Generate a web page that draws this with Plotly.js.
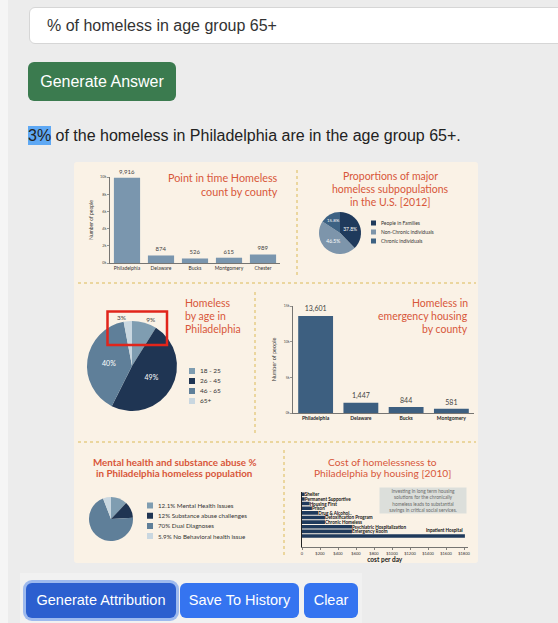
<!DOCTYPE html>
<html><head><meta charset="utf-8">
<script src="https://cdn.plot.ly/plotly-3.0.1.min.js"></script>
<style>
body{margin:0;background:#ececec;width:558px;height:623px;overflow:hidden;position:relative;font-family:"Liberation Sans",Arial,sans-serif;}
#leftstrip{position:absolute;left:0;top:0;width:8px;height:623px;background:#f5f5f5}
#q{position:absolute;left:29px;top:7px;width:560px;height:37px;background:#fff;border:1px solid #d6d6d6;border-radius:6px;box-sizing:border-box;font-size:16px;color:#333;padding-left:17px;line-height:35px}
#gen{position:absolute;left:28px;top:62px;width:148px;height:39px;background:#3b7b4f;color:#fff;border-radius:6px;font-size:16px;line-height:39px;text-align:center}
#ans{position:absolute;left:28px;top:124px;font-size:16px;color:#222;line-height:24px;white-space:nowrap}
#ans .hl{background:#5ea8f4;padding:1px 0}
#chart{position:absolute;left:74px;top:162px;width:404px;height:401px;border-radius:3px;overflow:hidden}
#btnbar{position:absolute;left:20px;top:573px;width:342px;height:50px;background:#f1f1f1}
.btn{position:absolute;top:583px;height:35px;line-height:35px;color:#fff;border-radius:6px;font-size:14.5px;text-align:center;background:#3574f0}
#b1{left:26px;width:150px;background:#2c5fcf;box-shadow:0 0 0 3px rgba(90,140,235,0.55)}
#b2{left:180px;width:119px}
#b3{left:304px;width:54px}
</style>
</head><body>
<div id="leftstrip"></div>
<div id="q">% of homeless in age group 65+</div>
<div id="gen">Generate Answer</div>
<div id="ans"><span class="hl">3%</span> of the homeless in Philadelphia are in the age group 65+.</div>
<div id="chart"></div>
<div id="btnbar"></div>
<div class="btn" id="b1">Generate Attribution</div>
<div class="btn" id="b2">Save To History</div>
<div class="btn" id="b3">Clear</div>
<script>
// ---- data ----
const countyNames = ['Philadelphia','Delaware','Bucks','Montgomery','Chester'];
const countyCounts = [9916, 874, 526, 615, 989];
const countyTickVals = [0, 2000, 4000, 6000, 8000, 10000];
const countyTickText = ['0k','2k','4k','6k','8k','10k'];

const usGroups = ['People in Families','Non-Chronic individuals','Chronic individuals'];
const usShares = [37.8, 46.5, 15.8];

const ageGroups = ['18 - 25','26 - 45','46 - 65','65+'];
const ageShares = [9, 49, 40, 3];

const emergNames = ['Philadelphia','Delaware','Bucks','Montgomery'];
const emergCounts = [13601, 1447, 844, 581];
const emergTickVals = [0, 5000, 10000, 15000];
const emergTickText = ['0k','5k','10k','15k'];

const healthGroups = ['12.1% Mental Health Issues','12% Substance abuse challenges','70% Dual Diagnoses','5.9% No Behavioral health issue'];
const healthShares = [12.1, 12, 70, 5.9];

const costServices = ['Shelter','Permanent Supportive','Housing First','Prison','Drug & Alcohol..','Detoxification Program','Chronic Homeless','Psychiatric Hospitalization','Emergency Room','Inpatient Hospital'];
const costPerDay = [30, 30, 85, 110, 180, 255, 255, 555, 555, 1810];
const costTickVals = [0,200,400,600,800,1000,1200,1400,1600,1800];
const costTickText = ['0','$200','$400','$600','$800','$1000','$1200','$1400','$1600','$1800'];

// ---- styling helpers ----
const W=404, H=401, OX=74, OY=162;
const px = X => (X-OX)/W;
const py = Y => 1-(Y-OY)/H;
const ORANGE = '#d8573a';
const FONT = 'Lato, "Open Sans", sans-serif';
const usColors = ['#1f3a5c','#7d95ab','#3d6283'];
const ageColors = ['#7f9db1','#1f3553','#5f7f99','#c9d7e0'];
const healthColors = ['#7f9db1','#1f3553','#5f7f99','#c9d7e0'];

const traces = [
 {type:'bar', x:countyNames, y:countyCounts, xaxis:'x', yaxis:'y', marker:{color:'#7a96ae'},
  text:countyCounts.map(v=>v.toLocaleString('en-US')), textposition:'outside', cliponaxis:false, constraintext:'none',
  textfont:{size:6,color:'#444'}, showlegend:false, hoverinfo:'skip'},
 {type:'pie', labels:usGroups, values:usShares, sort:false, direction:'clockwise', rotation:0,
  domain:{x:[px(319),px(361)], y:[py(254),py(212)]}, marker:{colors:usColors, line:{width:0}},
  texttemplate:'%{value}%', textposition:'inside', insidetextorientation:'horizontal',
  textfont:{size:5,color:'#ffffff'}, showlegend:false, hoverinfo:'skip'},
 {type:'pie', labels:ageGroups, values:ageShares, sort:false, direction:'clockwise', rotation:0,
  domain:{x:[px(87),px(177)], y:[py(411),py(321)]}, marker:{colors:ageColors, line:{width:0}},
  texttemplate:'%{value}%', textposition:['outside','inside','inside','outside'], insidetextorientation:'horizontal',
  insidetextfont:{size:7,color:'#ffffff'}, outsidetextfont:{size:6.5,color:'#444'}, showlegend:false, hoverinfo:'skip'},
 {type:'bar', x:emergNames, y:emergCounts, xaxis:'x2', yaxis:'y2', marker:{color:'#3d5f80'},
  text:emergCounts.map(v=>v.toLocaleString('en-US')), textposition:'outside', cliponaxis:false, constraintext:'none',
  textfont:{size:7,color:'#444'}, showlegend:false, hoverinfo:'skip'},
 {type:'pie', labels:healthGroups, values:healthShares, sort:false, direction:'clockwise', rotation:0,
  domain:{x:[px(89),px(133)], y:[py(541),py(497)]}, marker:{colors:healthColors, line:{width:0}},
  textinfo:'none', showlegend:false, hoverinfo:'skip'},
 {type:'bar', orientation:'h', x:costPerDay, y:costServices, xaxis:'x3', yaxis:'y3', marker:{color:'#1f3a5c'},
  text:costServices.map((s,i)=> i===costServices.length-1 ? '' : s), textposition:'outside', cliponaxis:false, constraintext:'none',
  textfont:{size:4.6,color:'#111', weight:'bold'}, showlegend:false, hoverinfo:'skip'}
];

const annotations = [];
const shapes = [];
function title(lines, X, Y0, step, anchor, size, weight){
  lines.forEach((t,i)=>{
    annotations.push({xref:'paper', yref:'paper', x:px(X), y:py(Y0+i*step), xanchor:anchor, yanchor:'middle', borderpad:0,
      text:t, showarrow:false, font:{family:FONT, size:size, color:ORANGE, weight:weight||'normal'}});
  });
}
title(['Point in time Homeless','count by county'], 279, 177, 14, 'right', 10.8);
title(['Proportions of major','homeless subpopulations','in the U.S. [2012]'], 390, 176, 13, 'center', 10.5);
title(['Homeless','by age in','Philadelphia'], 184, 303, 13, 'left', 10.5);
title(['Homeless in','emergency housing','by county'], 469, 303, 13, 'right', 10.5);
title(['Mental health and substance abuse %','in Philadelphia homeless population'], 174, 461.5, 11.5, 'center', 9.8, 'bold');
title(['Cost of homelessness to','Philadelphia by housing [2010]'], 382, 461.5, 11.5, 'center', 10.2);

function legend(items, colors, X, Y0, step, size, fsize){
  items.forEach((t,i)=>{
    const yc = Y0 + i*step;
    shapes.push({type:'rect', xref:'paper', yref:'paper', x0:px(X), x1:px(X+size), y0:py(yc+size/2), y1:py(yc-size/2),
      fillcolor:colors[i], line:{width:0}});
    annotations.push({xref:'paper', yref:'paper', x:px(X+size+4), y:py(yc), xanchor:'left', yanchor:'middle', borderpad:0,
      text:t, showarrow:false, font:{family:FONT, size:fsize, color:'#333'}});
  });
}
legend(usGroups, usColors, 371, 223, 9, 5, 5);
legend(ageGroups, ageColors, 189, 371, 10, 6, 6.5);
legend(healthGroups, healthColors, 147, 505.5, 10.2, 6, 6.2);

// Inpatient label above its bar
const last = costServices.length-1;
annotations.push({xref:'x3', yref:'y3', x:costPerDay[last], y:costServices[last], xanchor:'right', yanchor:'bottom', yshift:1,
  text:costServices[last], showarrow:false, font:{family:FONT, size:4.6, color:'#111', weight:'bold'}});

// info box
annotations.push({xref:'paper', yref:'paper', x:px(422.5), y:py(500.5), xanchor:'center', yanchor:'middle', width:86, height:25,
  bgcolor:'#dcdfdb', borderpad:0, showarrow:false, align:'center',
  text:'Investing in long term housing<br>solutions for the chronically<br>homeless leads to substantial<br>savings in critical social services.',
  font:{family:FONT, size:4.8, color:'#6a6a6a'}});

// dotted dividers
const DOT = {color:'#e6cd86', width:1.5, dash:'dot'};
[[78,283,476,283],[78,442,476,442],[297,170,297,275],[255,292,255,433],[284,450,284,558]].forEach(s=>{
  shapes.push({type:'line', xref:'paper', yref:'paper', x0:px(s[0]), y0:py(s[1]), x1:px(s[2]), y1:py(s[3]), line:DOT});
});
// red highlight box
shapes.push({type:'rect', xref:'paper', yref:'paper', x0:px(107.5), x1:px(167), y0:py(345), y1:py(311.5),
  line:{color:'#e1251b', width:2.5}, fillcolor:'rgba(0,0,0,0)'});

const axLine = {showline:true, linecolor:'#555', linewidth:0.8, showgrid:false, zeroline:false, fixedrange:true};
const costMax = 1840;
const layout = {
  width:W, height:H, margin:{l:0,r:0,t:0,b:0}, paper_bgcolor:'#faf2e6', plot_bgcolor:'rgba(0,0,0,0)',
  font:{family:FONT, color:'#333'}, showlegend:false, bargap:0.23,
  xaxis:Object.assign({}, axLine, {domain:[px(110),px(280)], anchor:'y', tickfont:{size:5,color:'#333'}, ticks:''}),
  yaxis:Object.assign({}, axLine, {domain:[py(263),py(177)], anchor:'x', range:[0,10000], tickvals:countyTickVals, ticktext:countyTickText,
    ticks:'outside', ticklen:2, tickwidth:0.6, tickcolor:'#555', tickfont:{size:3.8,color:'#444'},
    title:{text:'Number of people', font:{size:5,color:'#333'}, standoff:6}}),
  xaxis2:Object.assign({}, axLine, {domain:[px(293),px(474)], anchor:'y2', tickfont:{size:5,color:'#222',weight:'bold'}, ticks:''}),
  yaxis2:Object.assign({}, axLine, {domain:[py(413),py(306)], anchor:'x2', range:[0,15000], tickvals:emergTickVals, ticktext:emergTickText,
    ticks:'outside', ticklen:2, tickwidth:0.6, tickcolor:'#555', tickfont:{size:3.5,color:'#444'},
    title:{text:'Number of people', font:{size:5.5,color:'#333'}, standoff:6}}),
  xaxis3:Object.assign({}, axLine, {domain:[px(302),px(302+162*costMax/1800)], anchor:'y3', range:[0,costMax], tickvals:costTickVals, ticktext:costTickText,
    ticks:'outside', ticklen:2, tickwidth:0.6, tickcolor:'#333', tickfont:{size:4,color:'#333'},
    title:{text:'cost per day', font:{size:6.5,color:'#222',weight:'bold'}, standoff:2}}),
  yaxis3:Object.assign({}, axLine, {domain:[py(547),py(492)], anchor:'x3', autorange:'reversed', showticklabels:false, ticks:'',
    linecolor:'#222', linewidth:1}),
  annotations:annotations, shapes:shapes
};
Plotly.newPlot('chart', traces, layout, {staticPlot:true, displayModeBar:false});
</script>
</body></html>
